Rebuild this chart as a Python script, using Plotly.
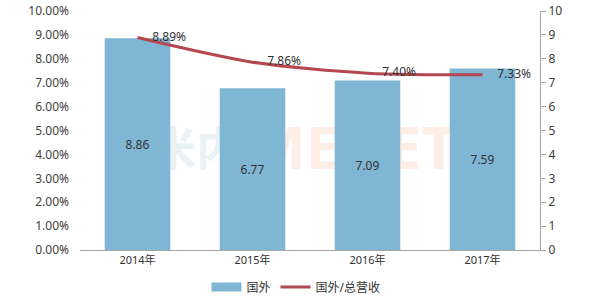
import plotly.graph_objects as go

years = ["2014年", "2015年", "2016年", "2017年"]
overseas = [8.86, 6.77, 7.09, 7.59]
ratio = [0.0889, 0.0786, 0.0740, 0.0733]
ratio_labels = ["8.89%", "7.86%", "7.40%", "7.33%"]
left_ticks = [i / 100 for i in range(0, 11)]
right_ticks = list(range(0, 11))

FONT = "Noto Sans, Noto Sans CJK SC, sans-serif"
TXT = "#404040"
BAR_C = "#7FB6D4"
LINE_C = "#B5474F"

fig = go.Figure()
fig.add_trace(go.Bar(
    x=years, y=overseas, name="国外", yaxis="y2", showlegend=False,
    marker=dict(color=BAR_C, line=dict(width=0)),
    text=[f"{v:.2f}" for v in overseas], textposition="inside",
    insidetextanchor="middle", textfont=dict(color="#333333", size=12, family=FONT),
    width=0.57,
))
# legend swatch for the bar series (wide box as in the reference)
fig.add_trace(go.Scatter(
    x=[None], y=[None], name="国外", yaxis="y2", mode="lines",
    line=dict(color=BAR_C, width=9),
))
fig.add_trace(go.Scatter(
    x=years, y=ratio, name="国外/总营收", yaxis="y",
    mode="lines+markers+text", line=dict(color=LINE_C, width=3, shape="spline", smoothing=0.8),
    marker=dict(size=22, color="rgba(0,0,0,0)"),
    text=ratio_labels, textposition="middle right",
    textfont=dict(color="#333333", size=12, family=FONT),
))

fig.update_layout(
    width=604, height=306,
    margin=dict(l=80, r=64, t=11, b=56, autoexpand=False),
    paper_bgcolor="white", plot_bgcolor="white",
    font=dict(family=FONT, size=12, color=TXT),
    showlegend=True,
    legend=dict(orientation="h", xref="container", yref="container", x=0.49, xanchor="center",
                y=0.062, yanchor="middle",
                font=dict(size=12, color="#333333"), itemwidth=30, traceorder="normal"),
    xaxis=dict(showline=True, linecolor="#A6A6A6", linewidth=1, ticks="",
               tickfont=dict(size=11, color="#333333"), showgrid=False),
    yaxis=dict(overlaying="y2", side="left", range=[0, 0.10], tickvals=left_ticks,
               tickformat=".2%", showgrid=False, zeroline=False, showline=False,
               ticks="", ticklabelstandoff=10),
    yaxis2=dict(side="right", range=[0, 10], tickvals=right_ticks, showgrid=False,
                zeroline=False, showline=True, linecolor="#A6A6A6", ticks="outside",
                ticklen=5, tickcolor="#A6A6A6"),
    shapes=[
        dict(type="rect", xref="paper", yref="paper", x0=0.15, x1=0.355, y0=0.31, y1=0.53,
             layer="below", line=dict(width=0), fillcolor="rgba(0,0,0,0)",
             label=dict(text="<b>米内</b>", font=dict(size=46, color="#EAF1F4", family=FONT),
                        textposition="middle center")),
        dict(type="rect", xref="paper", yref="paper", x0=0.375, x1=0.81, y0=0.31, y1=0.53,
             layer="below", line=dict(width=0), fillcolor="rgba(0,0,0,0)",
             label=dict(text="<b>MENET</b>", font=dict(size=60, color="#FDEEE6", family=FONT),
                        textposition="middle center")),
    ],
)

fig.write_html("out.html")
